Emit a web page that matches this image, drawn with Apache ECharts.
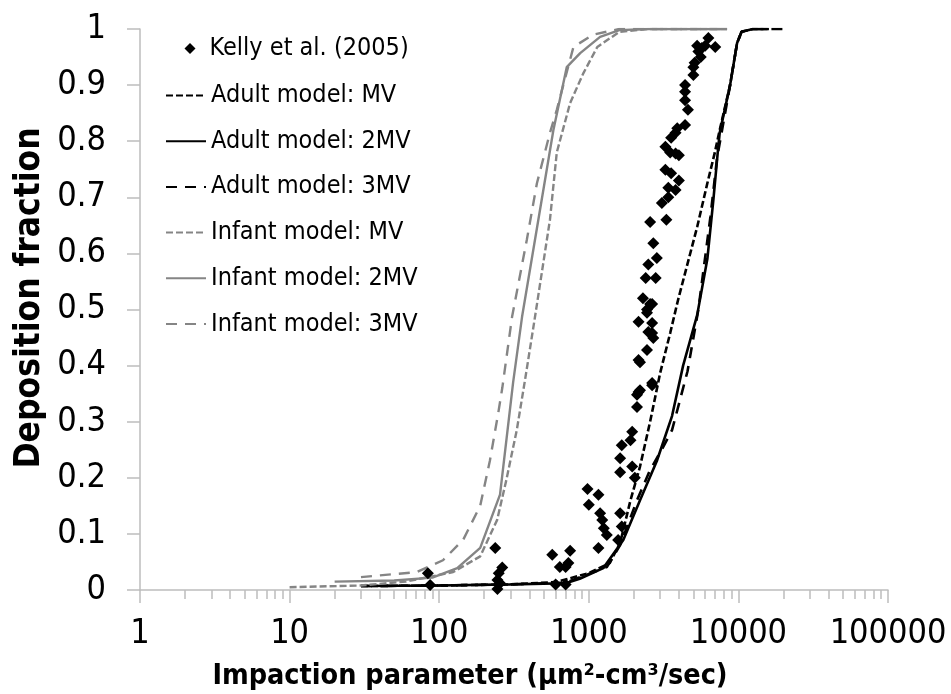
<!DOCTYPE html>
<html>
<head>
<meta charset="utf-8">
<script src="https://cdn.jsdelivr.net/npm/echarts@6/dist/echarts.min.js"></script>
<style>
html,body{margin:0;padding:0;background:#fff;}
#c{width:951px;height:694px;}
</style>
</head>
<body>
<div id="c"></div>
<script>
// ---- data ----
const xTickLabels = ['1','10','100','1000','10000','100000'];
const yTickLabels = ['0','0.1','0.2','0.3','0.4','0.5','0.6','0.7','0.8','0.9','1'];
const seriesNames = ['Kelly et al. (2005)','Adult model: MV','Adult model: 2MV','Adult model: 3MV','Infant model: MV','Infant model: 2MV','Infant model: 3MV'];

const kelly = [
 [84,0.03],[87,0.009],
 [237,0.075],[264,0.04],[250,0.03],[245,0.018],[245,0.002],[255,0.012],
 [570,0.063],[640,0.041],[750,0.07],[730,0.048],[700,0.041],[600,0.01],[700,0.01],
 [980,0.18],[1160,0.17],[1000,0.152],[1190,0.137],[1230,0.125],[1260,0.11],[1320,0.098],[1160,0.075],[1620,0.137],[1660,0.113],[1570,0.089],
 [1660,0.258],[1950,0.282],[1900,0.267],[1620,0.235],[1620,0.21],[1950,0.22],[2030,0.2],
 [2100,0.348],[2150,0.353],[2100,0.326],[2650,0.365],
 [2200,0.406],[2200,0.356],[2650,0.369],
 [2150,0.41],[2450,0.428],[2150,0.478],[2650,0.458],[2650,0.476],[2450,0.494],[2570,0.51],
 [2500,0.46],[2700,0.449],[2300,0.52],[2650,0.51],[2450,0.5],
 [2400,0.556],[2800,0.556],[2850,0.592],[2500,0.58],[2700,0.618],
 [2570,0.656],[3300,0.66],[3080,0.69],[3400,0.7],[3400,0.717],[3800,0.713],[4000,0.73],
 [3250,0.749],[3550,0.743],[3250,0.79],[3500,0.78],[3800,0.778],[4000,0.775],
 [3550,0.806],[3800,0.815],[3900,0.823],[4400,0.829],[4600,0.856],
 [4400,0.873],[4400,0.888],[4400,0.9],[5000,0.918],[5000,0.932],[5100,0.94],
 [5600,0.95],[5400,0.96],[5700,0.966],[6300,0.984],[7000,0.968],[5300,0.97],[6000,0.97]
];

const adultMV = [[30,0.007],[100,0.008],[300,0.01],[600,0.014],[1000,0.03],[1380,0.048],[1620,0.084],[1900,0.16],[2200,0.22],[2570,0.30],[3000,0.387],[3500,0.458],[3950,0.517],[5300,0.647],[6200,0.725],[6960,0.78],[7500,0.82],[8800,0.9],[9800,0.975],[10500,0.995],[12500,1],[16000,1]];
const adult2MV = [[30,0.007],[100,0.008],[300,0.01],[700,0.012],[870,0.02],[1250,0.039],[1700,0.089],[2200,0.16],[2850,0.23],[3600,0.31],[4270,0.4],[5300,0.49],[6200,0.59],[6800,0.695],[7300,0.784],[7500,0.815],[8800,0.9],[9800,0.975],[10500,0.995],[12500,1],[16000,1]];
const adult3MV = [[30,0.007],[100,0.008],[300,0.01],[700,0.013],[1320,0.041],[1620,0.08],[2100,0.16],[2570,0.214],[3070,0.25],[3600,0.285],[3900,0.32],[4570,0.39],[5400,0.5],[6500,0.665],[7200,0.77],[8800,0.9],[9800,0.975],[10500,0.995],[12500,1],[21000,1]];
const infantMV = [[10,0.005],[30,0.008],[60,0.015],[124,0.032],[188,0.06],[244,0.125],[281,0.196],[330,0.285],[375,0.375],[437,0.487],[550,0.66],[611,0.78],[750,0.868],[915,0.92],[1140,0.968],[1600,0.995],[2500,1],[8400,1]];
const infant2MV = [[20,0.015],[50,0.017],[90,0.022],[132,0.039],[188,0.075],[255,0.17],[312,0.37],[358,0.487],[460,0.66],[580,0.82],[712,0.932],[876,0.957],[1190,0.986],[1600,0.998],[2500,1],[8400,1]];
const infant3MV = [[30,0.023],[71,0.032],[106,0.053],[145,0.09],[188,0.15],[218,0.23],[248,0.315],[264,0.36],[307,0.487],[385,0.624],[450,0.725],[550,0.815],[611,0.856],[660,0.89],[790,0.968],[1070,0.99],[1600,1],[8400,1]];

// minor tick positions (2..9 in each decade), in log10 space
const minorTickValues = [];
for (let d = 0; d < 5; d++) for (let k = 2; k <= 9; k++) minorTickValues.push(d + Math.log10(k));

const FONT = "'DejaVu Sans Condensed', 'DejaVu Sans', sans-serif";
const AXIS_GRAY = '#bdbdbd';
const BLACK = '#000';
const GRAY = '#858585';
const SHORT = [7, 3];
const LONG = [11, 8];

function lineSeries(name, data, color, type, width) {
  return {
    name, type: 'line', data, xAxisIndex: 0, yAxisIndex: 0,
    symbol: 'none', smooth: false, silent: true,
    lineStyle: { color, width, type },
    itemStyle: { color },
    z: 3
  };
}

const lineLegendData = seriesNames.slice(1).map(n => ({ name: n, itemStyle: { opacity: 0, borderWidth: 0 } }));
const legendText = { fontSize: 25, fontFamily: FONT, color: '#000', lineHeight: 24 };

const chart = echarts.init(document.getElementById('c'), null, { renderer: 'canvas' });
chart.setOption({
  animation: false,
  backgroundColor: '#fff',
  textStyle: { fontFamily: FONT, color: '#000' },
  grid: { left: 140, right: 63, top: 29, bottom: 104, containLabel: false },
  xAxis: [
    {
      type: 'log', logBase: 10, min: 1, max: 100000,
      axisLine: { show: true, lineStyle: { color: AXIS_GRAY, width: 1.5 } },
      axisTick: { show: true, length: 13, lineStyle: { color: AXIS_GRAY, width: 1.5 } },
      axisLabel: { fontSize: 34, color: '#000', fontFamily: FONT, margin: 27,
        formatter: v => xTickLabels[Math.round(Math.log10(v))] },
      splitLine: { show: false }, minorTick: { show: false }
    },
    {
      type: 'value', min: 0, max: 5, position: 'top', offset: -561,
      axisLine: { show: false },
      axisTick: { show: true, inside: true, length: 9, customValues: minorTickValues, lineStyle: { color: AXIS_GRAY, width: 1.5 } },
      axisLabel: { show: false },
      splitLine: { show: false }
    }
  ],
  yAxis: {
    type: 'value', min: 0, max: 1, interval: 0.1,
    axisLine: { show: true, lineStyle: { color: AXIS_GRAY, width: 1.5 } },
    axisTick: { show: true, length: 13, lineStyle: { color: AXIS_GRAY, width: 1.5 } },
    axisLabel: { fontSize: 34, color: '#000', fontFamily: FONT, margin: 34,
      formatter: v => yTickLabels[Math.round(v * 10)] },
    splitLine: { show: false }
  },
  legend: [
    {
      orient: 'vertical', left: 179.5, top: 31,
      itemWidth: 11, itemHeight: 11, itemGap: 0,
      textStyle: Object.assign({}, legendText, { padding: [0, 0, 0, 9] }),
      data: [{ name: seriesNames[0], icon: 'diamond' }]
    },
    {
      orient: 'vertical', left: 160, top: 78,
      itemWidth: 40, itemHeight: 10, itemGap: 20.7,
      textStyle: Object.assign({}, legendText, { padding: [0, 0, 0, 0] }),
      data: lineLegendData
    }
  ],
  graphic: [
    { type: 'text', x: 470, y: 677, style: { text: 'Impaction parameter (μm²-cm³/sec)', font: 'bold 28.5px ' + FONT, fill: '#000', textAlign: 'center', textVerticalAlign: 'middle' } },
    { type: 'text', x: 30, y: 298, rotation: Math.PI / 2, style: { text: 'Deposition fraction', font: 'bold 35px ' + FONT, fill: '#000', textAlign: 'center', textVerticalAlign: 'middle' } }
  ],
  series: [
    { name: seriesNames[0], type: 'scatter', data: kelly, symbol: 'diamond', symbolSize: 12,
      itemStyle: { color: BLACK, opacity: 1 }, z: 4, silent: true },
    lineSeries(seriesNames[1], adultMV, BLACK, SHORT, 2.6),
    lineSeries(seriesNames[2], adult2MV, BLACK, 'solid', 2.6),
    lineSeries(seriesNames[3], adult3MV, BLACK, LONG, 2.6),
    lineSeries(seriesNames[4], infantMV, GRAY, SHORT, 2.4),
    lineSeries(seriesNames[5], infant2MV, GRAY, 'solid', 2.4),
    lineSeries(seriesNames[6], infant3MV, GRAY, LONG, 2.4)
  ]
});
</script>
</body>
</html>
